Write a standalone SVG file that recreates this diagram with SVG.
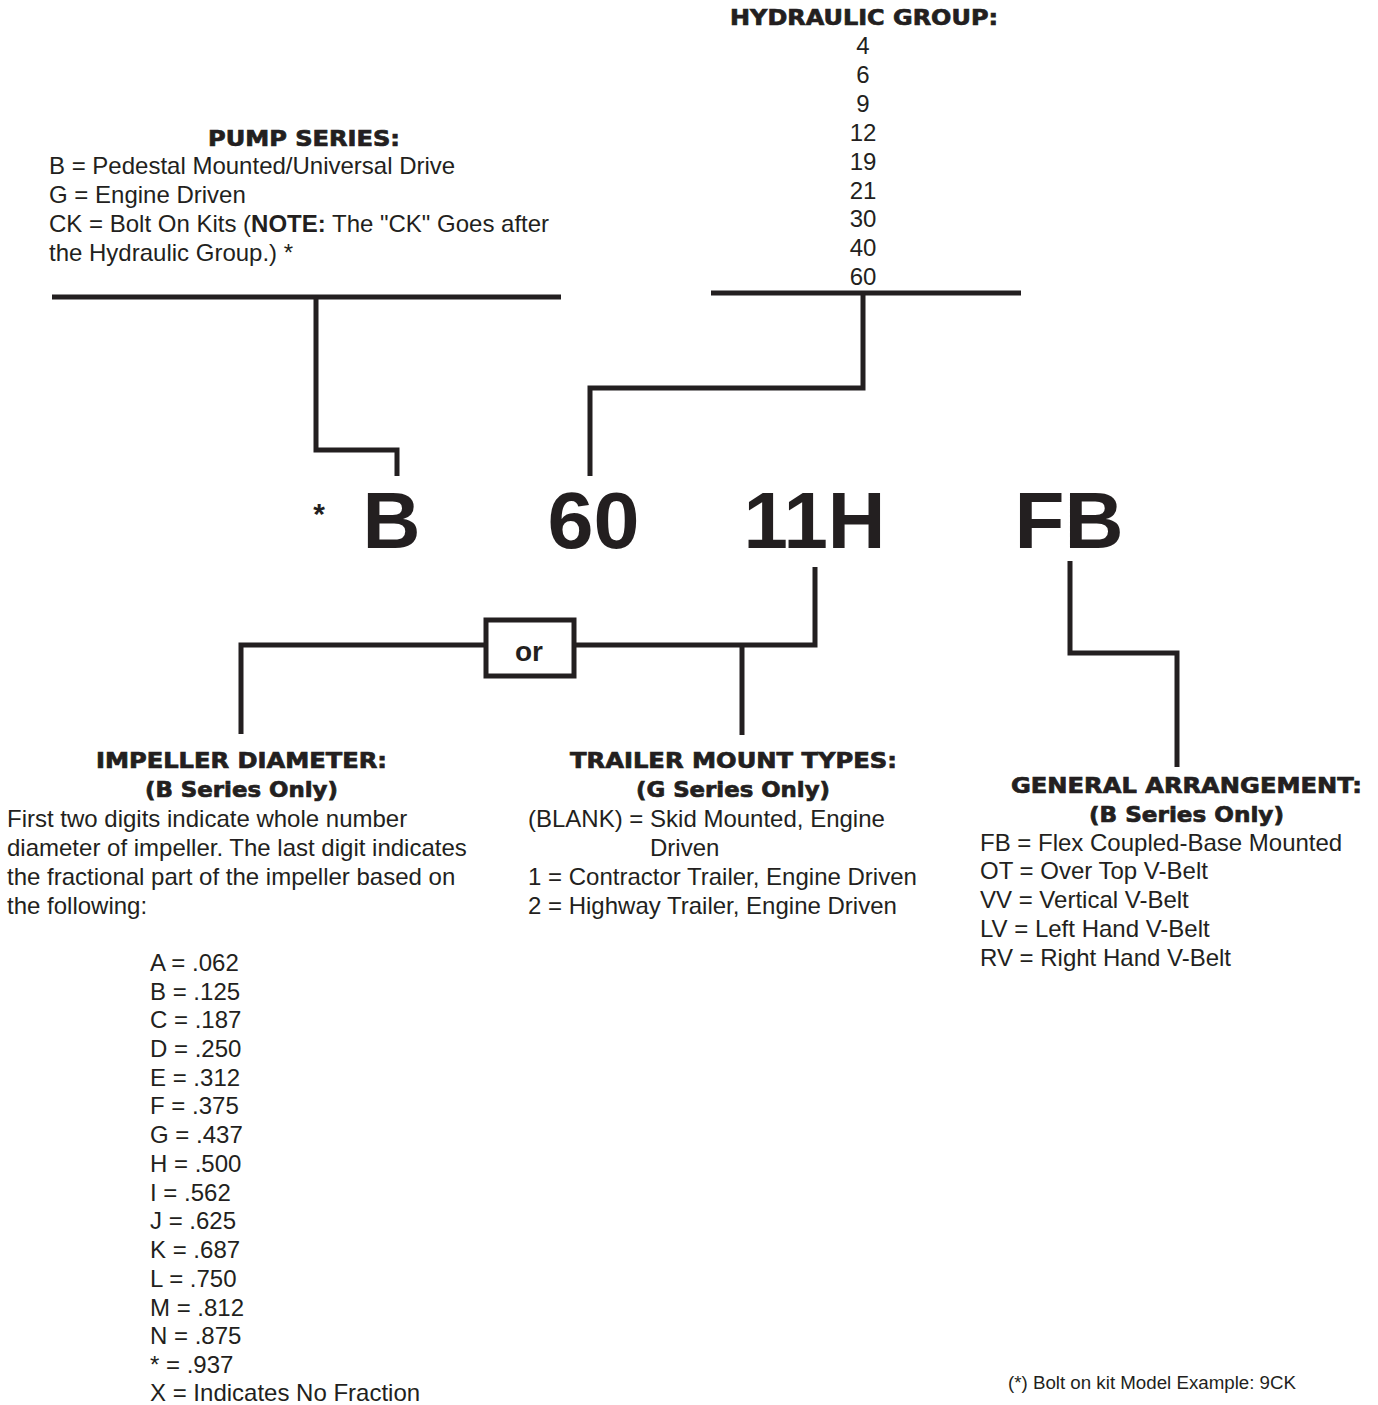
<svg xmlns="http://www.w3.org/2000/svg" width="1378" height="1405" viewBox="0 0 1378 1405">
<style>
.h{font-family:"DejaVu Sans","Liberation Sans",sans-serif;font-weight:bold;font-size:21px;fill:#231f20;stroke:#231f20;stroke-width:0.7;text-anchor:middle}
.t{font-family:"Liberation Sans",Arial,sans-serif;font-size:24px;fill:#231f20}
.c{text-anchor:middle}
.big{font-family:"Liberation Sans",Arial,sans-serif;font-weight:bold;font-size:80px;fill:#231f20;text-anchor:middle}
.ln{fill:none;stroke:#231f20;stroke-width:5;stroke-linecap:butt;stroke-linejoin:miter}
</style>
<rect width="1378" height="1405" fill="#ffffff"/>

<g id="hydraulic-group">
<text class="h" x="864" y="25" textLength="268" lengthAdjust="spacingAndGlyphs">HYDRAULIC GROUP:</text>
<text class="t c" x="863" y="54">4</text>
<text class="t c" x="863" y="83">6</text>
<text class="t c" x="863" y="112">9</text>
<text class="t c" x="863" y="141">12</text>
<text class="t c" x="863" y="170">19</text>
<text class="t c" x="863" y="199">21</text>
<text class="t c" x="863" y="227">30</text>
<text class="t c" x="863" y="256">40</text>
<text class="t c" x="863" y="285">60</text>
</g>

<g id="pump-series">
<text class="h" x="304" y="146" textLength="192" lengthAdjust="spacingAndGlyphs">PUMP SERIES:</text>
<text class="t" x="49" y="174">B = Pedestal Mounted/Universal Drive</text>
<text class="t" x="49" y="203">G = Engine Driven</text>
<text class="t" x="49" y="232">CK = Bolt On Kits (<tspan font-weight="bold">NOTE:</tspan> The "CK" Goes after</text>
<text class="t" x="49" y="261">the Hydraulic Group.) *</text>
</g>

<g id="model-code">
<text x="319" y="524" font-family="Liberation Sans, Arial, sans-serif" font-weight="bold" font-size="30" fill="#231f20" text-anchor="middle">*</text>
<text class="big" x="391.5" y="548" textLength="58" lengthAdjust="spacingAndGlyphs">B</text>
<text class="big" x="593.5" y="548" textLength="92" lengthAdjust="spacingAndGlyphs">60</text>
<text class="big" x="814.5" y="548" textLength="142" lengthAdjust="spacingAndGlyphs">11H</text>
<text class="big" x="1069" y="548" textLength="109" lengthAdjust="spacingAndGlyphs">FB</text>
</g>

<g id="or-box">
<rect class="ln" x="486" y="620" width="88" height="56"/>
<text x="529" y="661" font-family="Liberation Sans, Arial, sans-serif" font-weight="bold" font-size="28" fill="#231f20" text-anchor="middle">or</text>
</g>

<g id="impeller-diameter">
<text class="h" x="241.5" y="768" textLength="291" lengthAdjust="spacingAndGlyphs">IMPELLER DIAMETER:</text>
<text class="h" x="241.5" y="797" textLength="193" lengthAdjust="spacingAndGlyphs">(B Series Only)</text>
<text class="t" x="7" y="827">First two digits indicate whole number</text>
<text class="t" x="7" y="856">diameter of impeller. The last digit indicates</text>
<text class="t" x="7" y="885">the fractional part of the impeller based on</text>
<text class="t" x="7" y="914">the following:</text>
<text class="t" x="150" y="971">A = .062</text>
<text class="t" x="150" y="1000">B = .125</text>
<text class="t" x="150" y="1028">C = .187</text>
<text class="t" x="150" y="1057">D = .250</text>
<text class="t" x="150" y="1086">E = .312</text>
<text class="t" x="150" y="1114">F = .375</text>
<text class="t" x="150" y="1143">G = .437</text>
<text class="t" x="150" y="1172">H = .500</text>
<text class="t" x="150" y="1201">I = .562</text>
<text class="t" x="150" y="1229">J = .625</text>
<text class="t" x="150" y="1258">K = .687</text>
<text class="t" x="150" y="1287">L = .750</text>
<text class="t" x="150" y="1316">M = .812</text>
<text class="t" x="150" y="1344">N = .875</text>
<text class="t" x="150" y="1373">* = .937</text>
<text class="t" x="150" y="1401">X = Indicates No Fraction</text>
</g>

<g id="trailer-mount-types">
<text class="h" x="733.5" y="768" textLength="327" lengthAdjust="spacingAndGlyphs">TRAILER MOUNT TYPES:</text>
<text class="h" x="733" y="797" textLength="194" lengthAdjust="spacingAndGlyphs">(G Series Only)</text>
<text class="t" x="528" y="827">(BLANK) = Skid Mounted, Engine</text>
<text class="t" x="650" y="856">Driven</text>
<text class="t" x="528" y="885">1 = Contractor Trailer, Engine Driven</text>
<text class="t" x="528" y="914">2 = Highway Trailer, Engine Driven</text>
</g>

<g id="general-arrangement">
<text class="h" x="1186.5" y="793" textLength="351" lengthAdjust="spacingAndGlyphs">GENERAL ARRANGEMENT:</text>
<text class="h" x="1186.5" y="822" textLength="195" lengthAdjust="spacingAndGlyphs">(B Series Only)</text>
<text class="t" x="980" y="851">FB = Flex Coupled-Base Mounted</text>
<text class="t" x="980" y="879">OT = Over Top V-Belt</text>
<text class="t" x="980" y="908">VV = Vertical V-Belt</text>
<text class="t" x="980" y="937">LV = Left Hand V-Belt</text>
<text class="t" x="980" y="966">RV = Right Hand V-Belt</text>
</g>

<g id="footnote">
<text x="1008" y="1389" font-family="Liberation Sans, Arial, sans-serif" font-size="17.5" fill="#231f20" textLength="288" lengthAdjust="spacingAndGlyphs">(*) Bolt on kit Model Example: 9CK</text>
</g>

<g id="connectors">
<line class="ln" x1="52" y1="297" x2="561" y2="297"/>
<path class="ln" d="M316 297 V450 H397 V476"/>
<line class="ln" x1="711" y1="293" x2="1021" y2="293"/>
<path class="ln" d="M863 293 V388 H590 V476"/>
<path class="ln" d="M815 567 V645 H574"/>
<path class="ln" d="M486 645 H241 V734"/>
<line class="ln" x1="742" y1="645" x2="742" y2="735"/>
<path class="ln" d="M1070 561 V653 H1177 V767"/>
</g>
</svg>
